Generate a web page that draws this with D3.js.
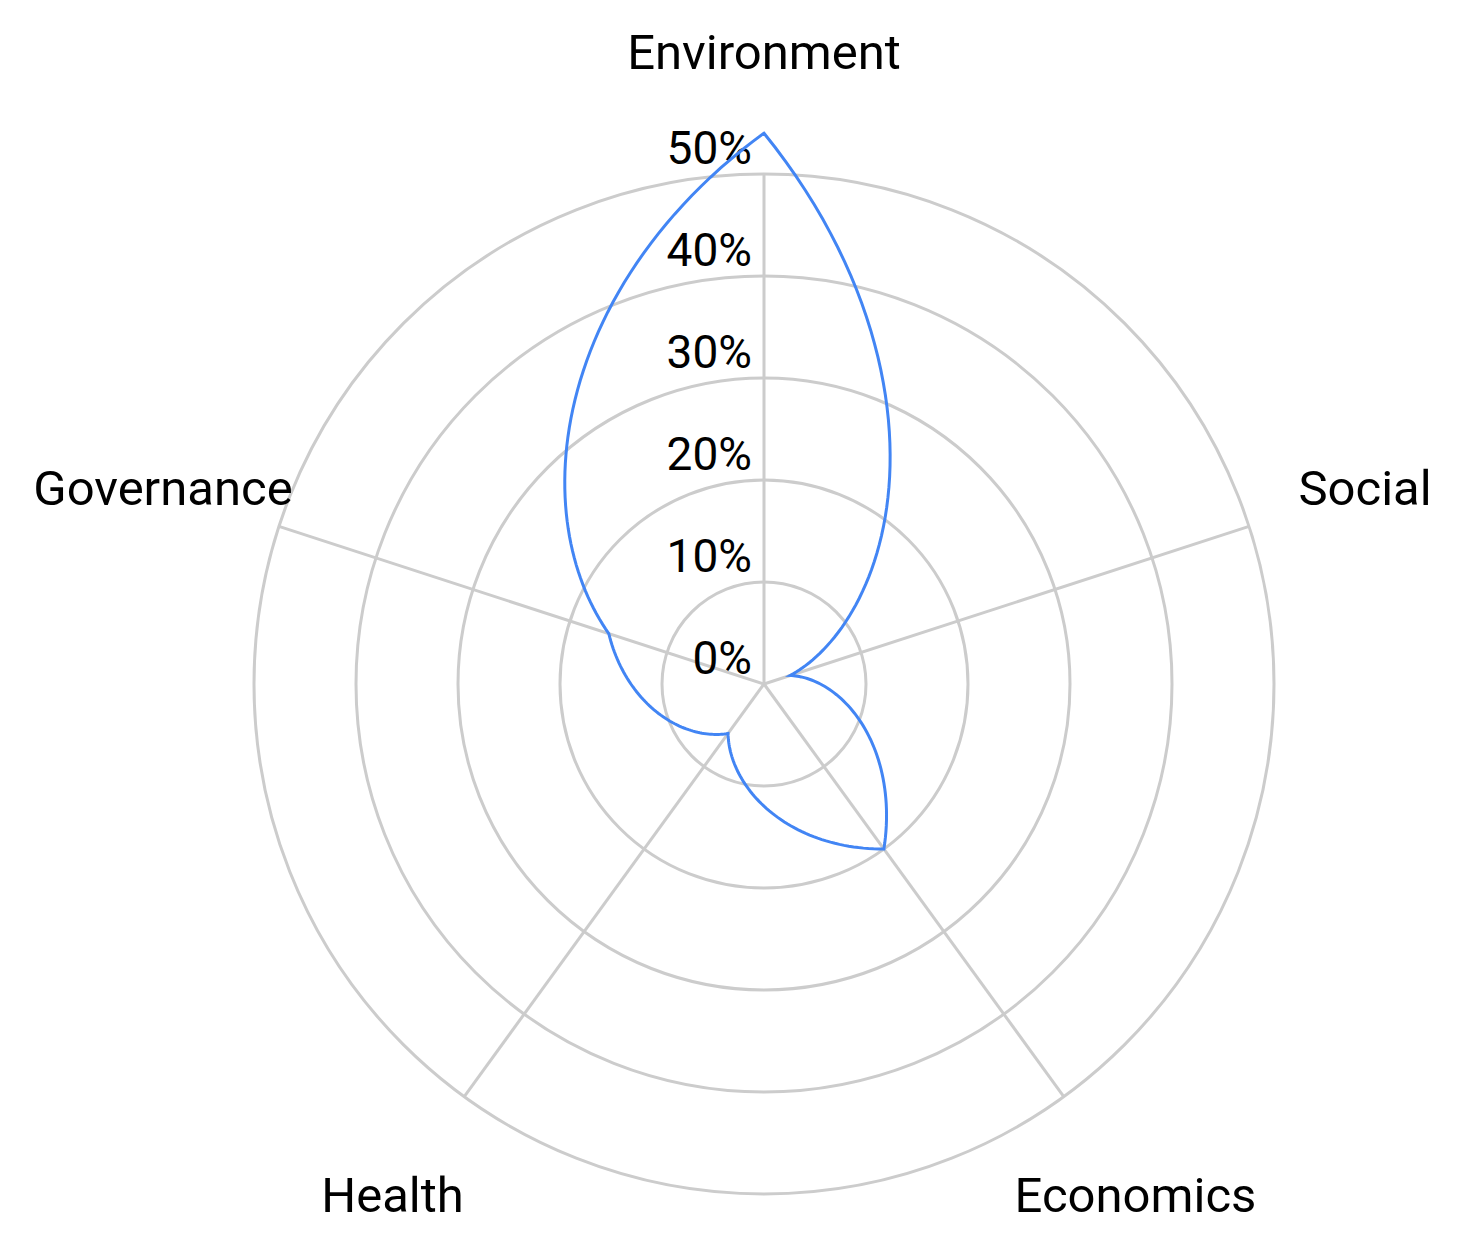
<!DOCTYPE html>
<html><head><meta charset="utf-8">
<script src="https://cdn.jsdelivr.net/npm/d3@7"></script>
<style>body{margin:0;background:#fff}</style></head>
<body><svg id="c" width="1466" height="1250"></svg>
<script>
const categories = ["Environment","Social","Economics","Health","Governance"];
const values = [54, 2.7, 20, 6, 16];
const tickValues = [0,10,20,30,40,50];
const tickLabels = ["0%","10%","20%","30%","40%","50%"];

const cx=764, cy=684, R=510;
const svg=d3.select("#c");
const g=svg.append("g").attr("transform",`translate(${cx},${cy})`);
const r=d3.scaleLinear().domain([0,50]).range([0,R]);
const a=d3.scaleLinear().domain([0,categories.length]).range([0,2*Math.PI]);

tickValues.slice(1).forEach(t=>g.append("circle").attr("r",r(t)).attr("fill","none").attr("stroke","#cccccc").attr("stroke-width",3));
categories.forEach((c,i)=>{
  const ang=a(i);
  g.append("line").attr("x1",0).attr("y1",0).attr("x2",R*Math.sin(ang)).attr("y2",-R*Math.cos(ang)).attr("stroke","#cccccc").attr("stroke-width",3);
  g.append("text").attr("x",632*Math.sin(ang)).attr("y",-632*Math.cos(ang)).attr("text-anchor","middle").attr("dominant-baseline","central")
   .attr("font-family","Roboto").attr("font-size",49).attr("fill","#000").text(c);
});
tickValues.forEach((t,i)=>g.append("text").attr("x",-12).attr("y",-r(t)-10).attr("text-anchor","end")
  .attr("font-family","Roboto").attr("font-size",46).attr("fill","#000").text(tickLabels[i]));

// interpolate sqrt(radius) linearly in angle between consecutive categories
const pts=[];
const n=categories.length, steps=60;
for(let i=0;i<n;i++){
  const s0=Math.sqrt(values[i]), s1=Math.sqrt(values[(i+1)%n]);
  for(let s=0;s<steps;s++){
    const f=s/steps, q=s0+(s1-s0)*f;
    pts.push([a(i+f), r(q*q)]);
  }
}
const line=d3.lineRadial().angle(d=>d[0]).radius(d=>d[1]).curve(d3.curveLinearClosed);
g.append("path").attr("d",line(pts)).attr("fill","none").attr("stroke","#4285f4").attr("stroke-width",3);
</script></body></html>
